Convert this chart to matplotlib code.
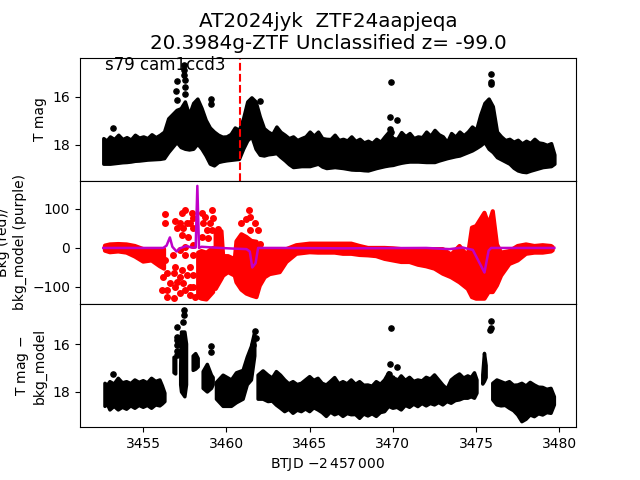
import numpy as np
import matplotlib
matplotlib.use("Agg")
import matplotlib.pyplot as plt

nan = np.nan

# top panel: upper and lower edge of the light curve band
t_mag = [3452.6, 3452.8, 3453, 3453.25, 3453.5, 3453.75, 3454, 3454.25, 3454.5, 3454.75, 3455, 3455.25, 3455.5, 3455.75,
         3456, 3456.25, 3456.5, 3457, 3457.25, 3457.5, 3457.75,
         3458, 3458.25, 3458.5, 3458.75, 3459, 3459.25, 3459.5, 3459.75, 3460, 3460.25, 3460.5, 3460.75, 3461, 3461.25, 3461.5,
         3461.75, 3462, 3462.25, 3462.5, 3462.75, 3463, 3463.25, 3463.5, 3463.75, 3464, 3464.25, 3464.5, 3464.75, 3465, 3465.25,
         3465.5, 3465.75, 3466, 3466.25, 3466.5, 3466.75, 3467, 3467.25, 3467.5, 3467.75,
         3468, 3468.25, 3468.5, 3468.75, 3469, 3469.25, 3469.5, 3469.75, 3470, 3470.25, 3470.5, 3470.75, 3471, 3471.25, 3471.5,
         3471.75, 3472, 3472.25, 3472.5, 3472.75, 3473, 3473.25, 3473.5, 3473.75,
         3474, 3474.25, 3474.5, 3474.75, 3475, 3475.25, 3475.5, 3475.75, 3476, 3476.25, 3476.5, 3476.75, 3477, 3477.25, 3477.5,
         3477.75, 3478, 3478.25, 3478.5, 3478.75, 3479, 3479.25, 3479.5, 3479.7]
mag_top = [17.72, 17.82, 17.65, 17.76, 17.58, 17.76, 17.68, 17.78, 17.58, 17.70, 17.65, 17.72, 17.56, 17.68,
           17.58, 17.45, 16.90, 16.55, 16.48, 16.20, 16.75,
           16.26, 16.08, 16.47, 16.96, 17.28, 17.45, 17.58, 17.66, 17.65, 17.55, 17.28, 17.38, 16.90, 16.20, 16.03,
           16.20, 16.82, 17.31, 17.45, 17.55, 17.24, 17.46, 17.58, 17.72, 17.65, 17.80, 17.72, 17.65, 17.45, 17.62,
           17.45, 17.72, 17.75, 17.76, 17.58, 17.80, 17.75, 17.82, 17.65, 17.84,
           17.75, 17.90, 17.83, 17.92, 17.75, 17.87, 17.65, 17.45, 17.72, 17.75, 17.47, 17.64, 17.51, 17.72, 17.65,
           17.68, 17.45, 17.62, 17.38, 17.56, 17.65, 17.88, 17.51, 17.66,
           17.45, 17.60, 17.45, 17.24, 17.38, 16.75, 16.26, 16.08, 16.40, 17.45, 17.65, 17.80, 17.75, 17.87, 17.79,
           17.94, 17.83, 17.92, 17.75, 17.90, 17.93, 18.00, 17.93, 18.40]
mag_bot = [18.78, 18.78, 18.78, 18.76, 18.74, 18.72, 18.71, 18.69, 18.66, 18.65, 18.63, 18.61, 18.60, 18.59,
           18.58, 18.55, 18.30, 17.88, 18.09, 18.16, 18.19,
           18.16, 17.95, 18.16, 18.44, 18.78, 18.85, 18.71, 18.67, 18.64, 18.62, 18.60, 18.58, 18.16, 17.81, 17.64,
           18.16, 18.41, 18.44, 18.39, 18.37, 18.34, 18.50, 18.64, 18.80, 18.92, 18.90, 18.88, 18.88, 18.88, 18.83,
           18.78, 18.90, 18.96, 18.94, 18.92, 18.94, 18.96, 18.99, 19.02, 19.03,
           19.03, 19.05, 19.06, 19.01, 18.96, 18.92, 18.88, 18.85, 18.83, 18.78, 18.74, 18.71, 18.69, 18.69, 18.69,
           18.70, 18.71, 18.71, 18.71, 18.65, 18.60, 18.55, 18.51, 18.47,
           18.44, 18.37, 18.30, 18.23, 18.13, 18.02, 17.88, 18.16, 18.30, 18.51, 18.60, 18.69, 18.78, 18.95, 19.06,
           19.11, 19.13, 19.07, 19.02, 18.97, 18.92, 18.90, 18.88, 18.78]
t_mag_out = [3453.2, 3457.0, 3456.95, 3457.05, 3457.45, 3457.45, 3457.45, 3457.5, 3457.5, 3457.5, 3459.1, 3459.1,
             3462.0, 3469.9, 3469.85, 3470.25, 3469.8, 3469.9, 3475.9, 3475.9, 3475.9]
mag_out = [17.30, 15.35, 15.78, 16.13, 14.70, 14.90, 15.10, 15.30, 15.60, 15.90, 16.08, 16.30,
           16.19, 15.39, 16.86, 16.97, 17.35, 17.45, 15.06, 15.39, 15.49]

# middle panel: background flux band, NaN marks gaps
t_bkg = [3452.7, 3453, 3453.5, 3454, 3454.5, 3455, 3455.5, 3456, 3456.25, nan,
         3458.3, 3458.5, 3458.8, 3459.2, nan, 3459.35, 3459.7, 3459.8, 3460.1, 3460.5, 3460.6, 3460.9, 3461.2,
         3461.5, 3461.8, 3462.0, 3462.3, 3462.6, 3463.2, 3463.6, 3464.2, 3465, 3465.5, 3466,
         3466.5, 3467, 3467.5, 3468, 3468.5, 3469, 3469.5, 3470, 3470.5, 3471, 3471.5, 3472, 3472.5, 3473,
         3473.5, 3474, 3474.5, 3474.75, 3475, 3475.25, 3475.5, 3475.75, 3476, 3476.25, 3476.5, 3477, 3477.5,
         3478, 3478.5, 3479, 3479.5, 3479.6]
bkg_top = [6, 9, 10, 9, 5, -3, -3, -3, -3, nan,
           -12, -8, -12, 0, nan, 43, 43, -21, -21, -29, 17, 35, 28,
           18, 16, 0, -4, -4, -3, -3, 7, 11, 11, 11,
           11, 11, 11, 5, 0, 0, 0, -1, -3, -3, -3, -3, -3, -3,
           -17, 5, -21, 52, 56, 73, 90, 60, 94, 9, -12, -8, 5,
           9, 5, 7, 5, 2]
bkg_bot = [-7, -11, -9, -12, -22, -35, -32, -47, -53, nan,
           -126, -130, -132, -113, nan, -105, -79, -71, -62, -71, -88, -107, -117,
           -122, -126, -97, -75, -67, -62, -36, -15, -11, -12, -12,
           -12, -15, -15, -18, -19, -21, -28, -32, -36, -36, -43, -47, -53, -66,
           -75, -88, -105, -126, -130, -130, -130, -113, -113, -96, -71, -41, -32,
           -15, -12, -12, -9, -6]
# scattered background points around the first feature
t_bkg_pts = [3456.30, 3456.30, 3456.10, 3456.30, 3456.16, 3456.40, 3456.10, 3456.40, 3456.40, 3456.84, 3456.90, 3457.04,
             3456.90, 3456.86, 3456.60, 3457.00, 3456.90, 3456.80, 3457.30, 3457.50, 3457.20, 3457.60, 3457.90, 3458.00,
             3457.40, 3457.80, 3458.00, 3457.30, 3457.70, 3457.50, 3458.00, 3457.20, 3457.50, 3457.80, 3458.00, 3457.20,
             3457.60, 3458.00, 3457.40, 3457.20, 3457.80, 3457.50, 3458.00, 3457.80, 3458.10, 3457.30,
             3458.50, 3458.71, 3459.11, 3459.17, 3459.01, 3458.61, 3458.81, 3459.11, 3458.50, 3458.91, 3459.51, 3459.51,
             3461.37, 3460.85, 3461.17, 3461.41, 3461.71, 3461.41, 3461.91, 3462.01]
bkg_pts = [86, 63, -18, -31, -74, -65, -108, -109, -125, -129, 68, 50, -48, -65, -91, -86, -99, -18,
           89, 97, 63, 63, 89, 76, 50, 63, 50, 33, 29, 3, 8, -5, -18, -50, -18, -74, -69, -69, -91,
           -116, -99, -108, -99, -121, -125, -56,
           89, 80, 97, 76, 63, 63, 46, 46, 29, 25, 48, 29,
           97, 63, 74, 80, 63, 46, 46, 10]

# purple background model line
t_model = [3452.6, 3456.2, 3456.4, 3456.6, 3456.75, 3457.0, 3457.2, 3457.6, 3457.9, 3458.15, 3458.25, 3458.35,
           3458.5, 3459.6, 3460.6, 3461.2, 3461.4, 3461.55, 3461.75, 3461.9, 3463.2, 3467, 3472, 3473.4, 3474.2,
           3474.8, 3475.5, 3475.75, 3475.9, 3476.05, 3479.7]
model = [0, 0, 6, 27, 3, -9, -1, 5, 1, 1, 159, 0, 3, 0, -2, -3, -9, -50, -39, 0, 0, -1, 0, -3, 1, -5, -63, -7, 0, 0, 0]

# bottom panel: magnitude minus background model, NaN marks gaps
t_sub = [3452.7, 3452.85, 3453, 3453.25, 3453.5, 3453.75, 3454, 3454.25, 3454.5, 3454.75, 3455, 3455.25, 3455.5,
         3455.75, 3456, 3456.15, 3456.3, nan,
         3456.85, 3456.95, nan, 3457.25, 3457.3, 3457.5, 3457.6, nan, 3458.0, 3458.15, 3458.3, nan,
         3458.6, 3458.85, 3459.1, 3459.2, nan, 3459.4, 3459.8, 3460.3, 3460.6, 3461, 3461.25, 3461.5, 3461.7, nan,
         3461.9, 3462.2, 3462.5, 3462.75, 3463, 3463.25, 3463.5, 3463.75, 3464, 3464.25, 3464.5, 3464.75, 3465, 3465.25,
         3465.5, 3465.75, 3466, 3466.25, 3466.5, 3466.75, 3467, 3467.25, 3467.5, 3467.75, 3468, 3468.25,
         3468.5, 3468.75, 3469, 3469.25, 3469.5, 3469.75, 3470, 3470.25, 3470.5, 3470.75, 3471, 3471.25, 3471.5,
         3471.75, 3472, 3472.25, 3472.5, 3472.75, 3473, 3473.25, 3473.5, 3473.75, 3474, 3474.25,
         3474.5, 3474.7, 3474.9, 3475.05, nan, 3475.4, 3475.5, 3475.6, nan,
         3476, 3476.25, 3476.5, 3476.75, 3477, 3477.25, 3477.5, 3477.75,
         3478, 3478.25, 3478.5, 3478.75, 3479, 3479.25, 3479.5, 3479.7]
sub_top = [17.64, 17.72, 17.57, 17.67, 17.43, 17.62, 17.57, 17.65, 17.50, 17.60, 17.53, 17.62, 17.43,
           17.56, 17.50, 17.75, 18.05, nan,
           16.55, 16.60, nan, 16.90, 15.50, 15.50, 16.00, nan, 16.50, 16.40, 16.60, nan,
           17.15, 16.85, 17.30, 17.40, nan, 17.60, 17.30, 17.50, 17.20, 17.10, 16.55, 16.10, 15.50, nan,
           17.30, 17.12, 17.30, 17.42, 17.15, 17.30, 17.50, 17.66, 17.57, 17.69, 17.64, 17.50, 17.36, 17.52,
           17.43, 17.64, 17.71, 17.56, 17.40, 17.66, 17.57, 17.66, 17.50, 17.68, 17.57, 17.72,
           17.71, 17.76, 17.57, 17.68, 17.50, 17.20, 17.57, 17.56, 17.33, 17.52, 17.39, 17.56, 17.50,
           17.54, 17.39, 17.46, 17.29, 17.50, 17.71, 17.88, 17.50, 17.36, 17.25, 17.42,
           17.33, 17.40, 17.20, 17.50, nan, 17.29, 16.39, 16.90, nan,
           17.64, 17.50, 17.57, 17.64, 17.57, 17.72, 17.71, 17.64,
           17.75, 17.60, 17.71, 17.80, 17.81, 17.89, 17.85, 18.20]
sub_bot = [18.60, 18.52, 18.75, 18.60, 18.75, 18.64, 18.72, 18.58, 18.68, 18.56, 18.64, 18.56, 18.68,
           18.54, 18.58, 18.50, 18.40, nan,
           17.20, 17.25, nan, 17.70, 18.00, 18.20, 17.70, nan, 17.10, 17.05, 16.95, nan,
           17.85, 18.00, 17.85, 17.70, nan, 18.30, 18.60, 18.60, 18.45, 18.30, 17.70, 17.50, 16.50, nan,
           18.30, 18.30, 18.40, 18.38, 18.55, 18.68, 18.82, 18.72, 18.89, 18.76, 18.82, 18.71, 18.82, 18.66,
           18.75, 18.86, 19.02, 18.84, 18.95, 18.88, 19.02, 18.90, 18.95, 18.94, 19.10, 18.92,
           19.00, 18.91, 19.02, 18.86, 18.82, 18.60, 18.68, 18.64, 18.75, 18.56, 18.64, 18.51, 18.61,
           18.48, 18.58, 18.48, 18.54, 18.44, 18.54, 18.40, 18.47, 18.36, 18.33, 18.26,
           18.26, 18.20, 18.26, 18.05, nan, 17.67, 17.56, 17.40, nan,
           18.33, 18.54, 18.58, 18.56, 18.68, 18.78, 18.96, 19.24,
           19.14, 18.96, 19.03, 18.91, 18.96, 18.86, 18.89, 18.54]
t_sub_out = [3453.2, 3457.0, 3457.0, 3457.0, 3457.05, 3457.0, 3457.05, 3457.45, 3457.45, 3457.4, 3459.1, 3459.1,
             3469.9, 3469.85, 3470.25, 3469.75, 3469.95, 3470.1, 3475.9, 3475.9, 3475.85,
             3461.7, 3461.75, 3461.6, 3461.5]
sub_out = [17.25, 15.30, 15.70, 15.85, 16.05, 16.30, 16.45, 14.60, 14.80, 15.10, 16.10, 16.32,
           15.35, 16.82, 16.97, 17.25, 17.40, 17.50, 15.03, 15.35, 15.40,
           15.45, 15.75, 16.05, 16.40]

t_dash = 3460.81

fig, (ax1, ax2, ax3) = plt.subplots(3, 1, sharex=True)
fig.subplots_adjust(hspace=0)

ax1.fill_between(t_mag, mag_top, mag_bot, color="k", lw=2.5)
ax1.plot(t_mag_out, mag_out, "k.", ms=7.5)
ax1.axvline(t_dash, color="r", ls="--", lw=1.5)
ax1.set_ylim(19.49, 14.38)
ax1.set_yticks([16, 18])
ax1.set_ylabel("T mag")
ax1.text(3452.72, 14.7, "s79 cam1ccd3", fontsize=12, va="center")
ax1.set_title("AT2024jyk  ZTF24aapjeqa\n20.3984g-ZTF Unclassified z= -99.0", fontsize=14.3)

ax2.fill_between(t_bkg, bkg_top, bkg_bot, color="r", lw=3)
ax2.plot(t_bkg_pts, bkg_pts, "r.", ms=8)
ax2.plot(t_model, model, color="#bf00c8", lw=1.8)
ax2.set_ylim(-143.6, 172)
ax2.set_yticks([-100, 0, 100])
ax2.set_ylabel("Bkg (red)/\nbkg_model (purple)")

ax3.fill_between(t_sub, sub_top, sub_bot, color="k", lw=2.5)
ax3.plot(t_sub_out, sub_out, "k.", ms=7.5)
ax3.set_ylim(19.47, 14.33)
ax3.set_yticks([16, 18])
ax3.set_ylabel("T mag $-$\nbkg_model")
ax3.set_xlim(3451.2, 3481.0)
ax3.set_xticks([3455, 3460, 3465, 3470, 3475, 3480])
ax3.set_xticklabels(["3455", "3460", "3465", "3470", "3475", "3480"])
ax3.set_xlabel(r"BTJD $-2\,457\,000$")

ax1.tick_params(bottom=False)
ax2.tick_params(bottom=False)

fig.savefig("out.png", dpi=100)
